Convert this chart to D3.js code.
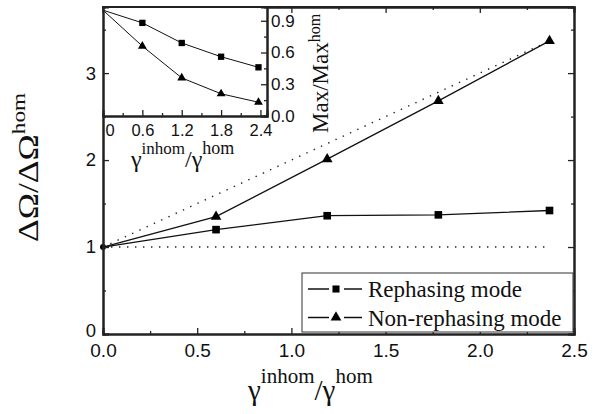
<!DOCTYPE html>
<meta charset="utf-8">
<style>
  body { margin: 0; background: #fff; }
  text { fill: #111; }
  .tick text { font-family: "Liberation Sans", Arial, sans-serif; }
  text.serif, text.serif tspan { font-family: "Liberation Serif", "Times New Roman", "DejaVu Serif", serif; font-weight: normal; }
</style>
<body>
<script src="https://d3js.org/d3.v7.min.js"></script>
<script>
// main plot data
var xMain = [0, 0.6, 1.19, 1.78, 2.37];
var rephasing = [1.0, 1.20, 1.36, 1.37, 1.42];
var nonRephasing = [1.0, 1.35, 2.01, 2.68, 3.37];
// dotted guide lines
var guideFlat = [[0, 1], [2.35, 1]];
var guideDiag = [[0, 1], [2.34, 3.34]];
// inset data
var insetX = [0, 0.6, 1.2, 1.8, 2.37];
var insetRephasing = [1.0, 0.88, 0.69, 0.56, 0.46];
var insetNonRephasing = [1.0, 0.66, 0.36, 0.21, 0.13];
// ticks
var xMajor = [0, 0.5, 1, 1.5, 2, 2.5];
var xMinor = [0.25, 0.75, 1.25, 1.75, 2.25];
var yMajor = [0, 1, 2, 3];
var yMinor = [0.5, 1.5, 2.5, 3.5];
var inXMajor = [0, 0.6, 1.2, 1.8, 2.4];
var inXMinor = [0.3, 0.9, 1.5, 2.1];
var inYMajor = [0, 0.3, 0.6, 0.9];
var inYMinor = [0.15, 0.45, 0.75];
var legendNames = ["Rephasing mode", "Non-rephasing mode"];

var width = 603, height = 414;
var svg = d3.select("body").append("svg")
    .attr("width", width)
    .attr("height", height);

var x = d3.scaleLinear().domain([0, 2.5]).range([103, 574]);
var y = d3.scaleLinear().domain([0, 3.76]).range([334, 7]);
var xi = d3.scaleLinear().domain([0, 2.5]).range([103, 267]);
var yi = d3.scaleLinear().domain([0, 1.03]).range([116, 7]);

var line = d3.line().x(function(d) { return x(d[0]); }).y(function(d) { return y(d[1]); });
var lineI = d3.line().x(function(d) { return xi(d[0]); }).y(function(d) { return yi(d[1]); });

var sq = d3.symbol().type(d3.symbolSquare);
var tri = d3.symbol().type(d3.symbolTriangle);

// draws an axis with major and minor ticks, labels only on majors
function drawAxis(axisFn, scale, tx, ty, major, minor, len, fmt, fontSize, pad) {
  var gMin = svg.append("g").attr("transform", "translate(" + tx + "," + ty + ")")
    .call(axisFn(scale).tickValues(minor).tickSize(-len / 2).tickFormat(""));
  var gMaj = svg.append("g").attr("transform", "translate(" + tx + "," + ty + ")")
    .call(axisFn(scale).tickValues(major).tickSize(-len).tickPadding(pad)
      .tickFormat(fmt || ""));
  [gMin, gMaj].forEach(function(g) {
    g.select(".domain").attr("stroke", "#222").attr("stroke-width", 2);
    g.selectAll(".tick line").attr("stroke", "#222").attr("stroke-width", 1.3);
    g.selectAll(".tick text").style("font-size", fontSize + "px");
  });
  return gMaj;
}

// --- main data
svg.append("path").attr("d", line(guideFlat)).attr("fill", "none")
  .attr("stroke", "#222").attr("stroke-width", 1.4).attr("stroke-dasharray", "1.4 6.6");
svg.append("path").attr("d", line(guideDiag)).attr("fill", "none")
  .attr("stroke", "#222").attr("stroke-width", 1.4).attr("stroke-dasharray", "1.4 6.6");

var rePts = xMain.map(function(v, i) { return [v, rephasing[i]]; });
var nonPts = xMain.map(function(v, i) { return [v, nonRephasing[i]]; });

[rePts, nonPts].forEach(function(pts) {
  svg.append("path").attr("d", line(pts)).attr("fill", "none")
    .attr("stroke", "#111").attr("stroke-width", 1.3);
});
svg.selectAll(".mre").data(rePts.slice(1)).enter().append("path")
  .attr("transform", function(d) { return "translate(" + x(d[0]) + "," + y(d[1]) + ")"; })
  .attr("d", sq.size(58)).attr("fill", "#000");
svg.selectAll(".mnon").data(nonPts.slice(1)).enter().append("path")
  .attr("transform", function(d) { return "translate(" + x(d[0]) + "," + y(d[1]) + ")"; })
  .attr("d", tri.size(50)).attr("fill", "#000");
svg.append("circle").attr("cx", x(0)).attr("cy", y(1)).attr("r", 3).attr("fill", "#000");

// --- main axes (left drawn after inset)
drawAxis(d3.axisBottom, x, 0, 334, xMajor, xMinor, 6, d3.format(".1f"), 19, 10);
drawAxis(d3.axisTop, x, 0, 7, xMajor, xMinor, 6, null, 19, 3);
drawAxis(d3.axisRight, y, 574, 0, yMajor, yMinor, 6, null, 19, 3);

// --- legend
var lg = svg.append("g");
lg.append("rect").attr("x", 302).attr("y", 273).attr("width", 271).attr("height", 59)
  .attr("fill", "#fff").attr("stroke", "#333").attr("stroke-width", 1);
legendNames.forEach(function(name, i) {
  var ly = 289 + i * 28.5;
  lg.append("line").attr("x1", 308).attr("x2", 362).attr("y1", ly).attr("y2", ly)
    .attr("stroke", "#111").attr("stroke-width", 1.3);
  lg.append("rect").attr("x", 329).attr("y", ly - 5).attr("width", 15).attr("height", 10).attr("fill", "#fff");
  lg.append("path").attr("transform", "translate(336," + ly + ")")
    .attr("d", i === 0 ? sq.size(50) : tri.size(50)).attr("fill", "#000");
  lg.append("text").attr("class", "serif").attr("x", 368).attr("y", ly + 8)
    .style("font-size", "23px").text(name);
});

// --- inset
svg.append("rect").attr("x", 103).attr("y", 7).attr("width", 164).attr("height", 109)
  .attr("fill", "#fff");
var inRe = insetX.map(function(v, i) { return [v, insetRephasing[i]]; });
var inNon = insetX.map(function(v, i) { return [v, insetNonRephasing[i]]; });
[inRe, inNon].forEach(function(pts) {
  svg.append("path").attr("d", lineI(pts)).attr("fill", "none")
    .attr("stroke", "#111").attr("stroke-width", 1);
});
svg.selectAll(".ire").data(inRe.slice(1)).enter().append("path")
  .attr("transform", function(d) { return "translate(" + xi(d[0]) + "," + yi(d[1]) + ")"; })
  .attr("d", sq.size(40)).attr("fill", "#000");
svg.selectAll(".inon").data(inNon.slice(1)).enter().append("path")
  .attr("transform", function(d) { return "translate(" + xi(d[0]) + "," + yi(d[1]) + ")"; })
  .attr("d", tri.size(34)).attr("fill", "#000");

var ixa = drawAxis(d3.axisBottom, xi, 0, 116, inXMajor, inXMinor, 6, d3.format(".1~f"), 16.5, 8);
ixa.selectAll(".tick text").filter(function(d) { return d === 0; })
  .attr("text-anchor", "start").attr("x", 2);
drawAxis(d3.axisRight, yi, 267, 0, inYMajor, inYMinor, 6, d3.format(".1f"), 17, 4);

// main left axis on top
var yax = drawAxis(d3.axisLeft, y, 103, 0, yMajor, yMinor, 6, d3.format("d"), 18.5, 7);
yax.selectAll(".tick text").filter(function(d) { return d === 0; }).attr("y", -3);
svg.append("line").attr("x1", 102).attr("x2", 575).attr("y1", 7).attr("y2", 7)
  .attr("stroke", "#222").attr("stroke-width", 2);

// --- titles
var xt = svg.append("text").attr("class", "serif").attr("x", 248).attr("y", 400)
  .style("font-size", "29px");
xt.append("tspan").text("\u03b3");
xt.append("tspan").attr("dy", -17).style("font-size", "21px").text("inhom");
xt.append("tspan").attr("dy", 17).text("/\u03b3");
xt.append("tspan").attr("dy", -17).style("font-size", "21px").text("hom");

var yt = svg.append("text").attr("class", "serif")
  .attr("transform", "translate(38,242) rotate(-90) scale(1.22,1)")
  .style("font-size", "29px");
yt.append("tspan").text("\u0394\u03a9/\u0394\u03a9");
yt.append("tspan").attr("dy", -13).style("font-size", "19px").text("hom");

var ixt = svg.append("text").attr("class", "serif").attr("x", 131).attr("y", 167)
  .style("font-size", "24px");
ixt.append("tspan").text("\u03b3");
ixt.append("tspan").attr("dy", -13).style("font-size", "17px").text("inhom");
ixt.append("tspan").attr("dy", 13).text("/\u03b3");
ixt.append("tspan").attr("dy", -13).style("font-size", "18px").text("hom");

var iyt = svg.append("text").attr("class", "serif")
  .attr("transform", "translate(328,133) rotate(-90)")
  .style("font-size", "23px");
iyt.append("tspan").text("Max/Max");
iyt.append("tspan").attr("dy", -8).style("font-size", "16px").text("hom");
</script>
</body>
